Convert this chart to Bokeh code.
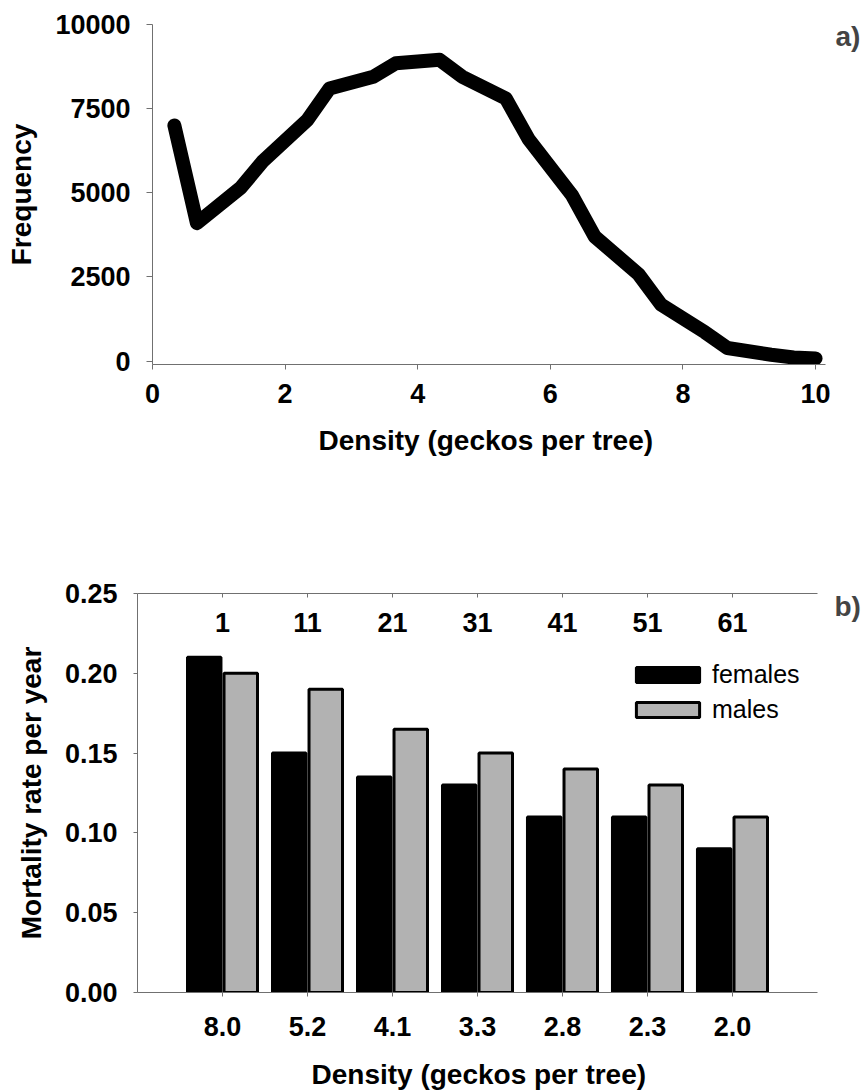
from bokeh.plotting import figure
from bokeh.layouts import column
from bokeh.models import (Range1d, FixedTicker, LinearAxis, Legend, LegendItem,
                          Label, NumeralTickFormatter, ColumnDataSource, Title)
from bokeh.transform import dodge
from bokeh.embed import file_html
from bokeh.resources import INLINE

# ---------------- data: panel a ----------------
density_a = [0.33, 0.67, 1.33, 1.67, 2.33, 2.67, 3.33, 3.67, 4.33, 4.67, 5.33,
             5.67, 6.33, 6.67, 7.33, 7.67, 8.33, 8.67, 9.33, 9.67, 10.0]
frequency_a = [7000, 4100, 5150, 5950, 7150, 8100, 8450, 8850, 8950, 8450, 7800,
               6600, 4920, 3700, 2580, 1680, 860, 390, 190, 110, 80]
xticks_a = [0, 2, 4, 6, 8, 10]
yticks_a = [0, 2500, 5000, 7500, 10000]

# ---------------- data: panel b ----------------
density_labels = ["8.0", "5.2", "4.1", "3.3", "2.8", "2.3", "2.0"]
group_labels = ["1", "11", "21", "31", "41", "51", "61"]
females = [0.21, 0.15, 0.135, 0.13, 0.11, 0.11, 0.09]
males = [0.20, 0.19, 0.165, 0.15, 0.14, 0.13, 0.11]
yticks_b = [0.0, 0.05, 0.10, 0.15, 0.20, 0.25]

FONT = "Liberation Sans"
AXC = "#707070"
XLABEL = "Density (geckos per tree)"


def style_axis(ax, size="27px"):
    ax.axis_line_color = AXC
    ax.axis_line_width = 1
    ax.major_tick_line_color = AXC
    ax.minor_tick_line_color = None
    ax.major_label_text_font = FONT
    ax.major_label_text_font_style = "bold"
    ax.major_label_text_font_size = size
    ax.major_label_text_color = "black"
    ax.axis_label_text_font = FONT
    ax.axis_label_text_font_style = "bold"
    ax.axis_label_text_font_size = "28px"
    ax.axis_label_text_color = "black"


def spacer_axis(gap):
    # invisible axis used only to reserve vertical space before the axis title
    return LinearAxis(ticker=FixedTicker(ticks=[0]), major_tick_out=gap,
                      major_tick_in=0, minor_tick_out=0, minor_tick_in=0,
                      major_label_standoff=0, major_label_overrides={0: ""},
                      axis_line_color=None, major_tick_line_color="white",
                      minor_tick_line_color=None)


def axis_title(text, offset):
    return Title(text=text, align="left", offset=offset, standoff=0,
                 vertical_align="top", text_font=FONT, text_font_style="bold",
                 text_font_size="28px", text_color="black")


# ================= panel a =================
pa = figure(frame_width=713, frame_height=340,
            x_range=Range1d(0, 10.753), y_range=Range1d(-100, 10000),
            min_border_left=152, min_border_right=0, min_border_top=24,
            min_border_bottom=116, frame_align=False,
            output_backend="svg", toolbar_location=None)
pa.line(density_a, frequency_a, line_width=14, color="black",
        line_cap="round", line_join="round")
pa.grid.visible = False
pa.outline_line_color = None

xa = pa.xaxis[0]
style_axis(xa)
xa.bounds = (0, 10.15)
xa.ticker = FixedTicker(ticks=xticks_a)
xa.major_tick_out = 5
xa.major_tick_in = 0
xa.major_label_standoff = 14
pa.add_layout(spacer_axis(19), "below")
pa.add_layout(axis_title(XLABEL, 166), "below")

ya = pa.yaxis[0]
style_axis(ya)
ya.ticker = FixedTicker(ticks=yticks_a)
ya.major_tick_out = 6
ya.major_tick_in = 0
ya.major_label_standoff = 16
ya.axis_label = "Frequency"
ya.axis_label_standoff = 15

pa.add_layout(Label(x=10.30, y=9643, text="a)", text_font=FONT,
                    text_font_style="bold", text_font_size="28px",
                    text_baseline="middle", text_align="left"))

# ================= panel b =================
idx = list(range(len(density_labels)))
src = ColumnDataSource(dict(x=idx, females=females, males=males))

pb = figure(frame_width=728, frame_height=399,
            x_range=Range1d(-1, 7.565), y_range=Range1d(0, 0.25),
            min_border_left=137, min_border_right=0, min_border_top=113,
            min_border_bottom=90, frame_align=False,
            output_backend="svg", toolbar_location=None)
pb.grid.visible = False
pb.outline_line_color = None

rf = pb.vbar(x=dodge("x", -0.215), top="females", width=0.394, source=src,
             fill_color="black", line_color="black", line_width=3)
rm = pb.vbar(x=dodge("x", 0.215), top="males", width=0.394, source=src,
             fill_color="#b2b2b2", line_color="black", line_width=3)

xb = pb.xaxis[0]
style_axis(xb)
xb.bounds = (-1, 7)
xb.ticker = FixedTicker(ticks=idx)
xb.major_label_overrides = {i: l for i, l in zip(idx, density_labels)}
xb.major_tick_out = 4
xb.major_tick_in = 0
xb.major_label_standoff = 20
pb.add_layout(spacer_axis(20), "below")
pb.add_layout(axis_title(XLABEL, 174), "below")

yb = pb.yaxis[0]
style_axis(yb)
yb.ticker = FixedTicker(ticks=yticks_b)
yb.formatter = NumeralTickFormatter(format="0.00")
yb.major_tick_out = 4
yb.major_tick_in = 0
yb.major_label_standoff = 16
yb.axis_label = "Mortality rate per year"
yb.axis_label_standoff = 15

top_ax = LinearAxis(ticker=FixedTicker(ticks=idx), bounds=(-1, 7),
                    major_label_overrides={i: l for i, l in zip(idx, group_labels)})
style_axis(top_ax)
top_ax.major_tick_in = 4
top_ax.major_tick_out = 0
top_ax.major_label_standoff = -38
pb.add_layout(top_ax, "above")

legend = Legend(items=[LegendItem(label="females", renderers=[rf]),
                       LegendItem(label="males", renderers=[rm])],
                location=(491, 268), glyph_width=79, glyph_height=19,
                label_text_font=FONT, label_text_font_size="25px",
                label_text_color="black",
                label_standoff=5, padding=0, margin=0, spacing=6,
                border_line_color=None, background_fill_alpha=0)
pb.add_layout(legend)

pb.add_layout(Label(x=7.2, y=0.242, text="b)", text_font=FONT,
                    text_font_style="bold", text_font_size="28px",
                    text_baseline="middle", text_align="left"))

layout = column(pa, pb)
open("out.html", "w").write(file_html(layout, INLINE))
